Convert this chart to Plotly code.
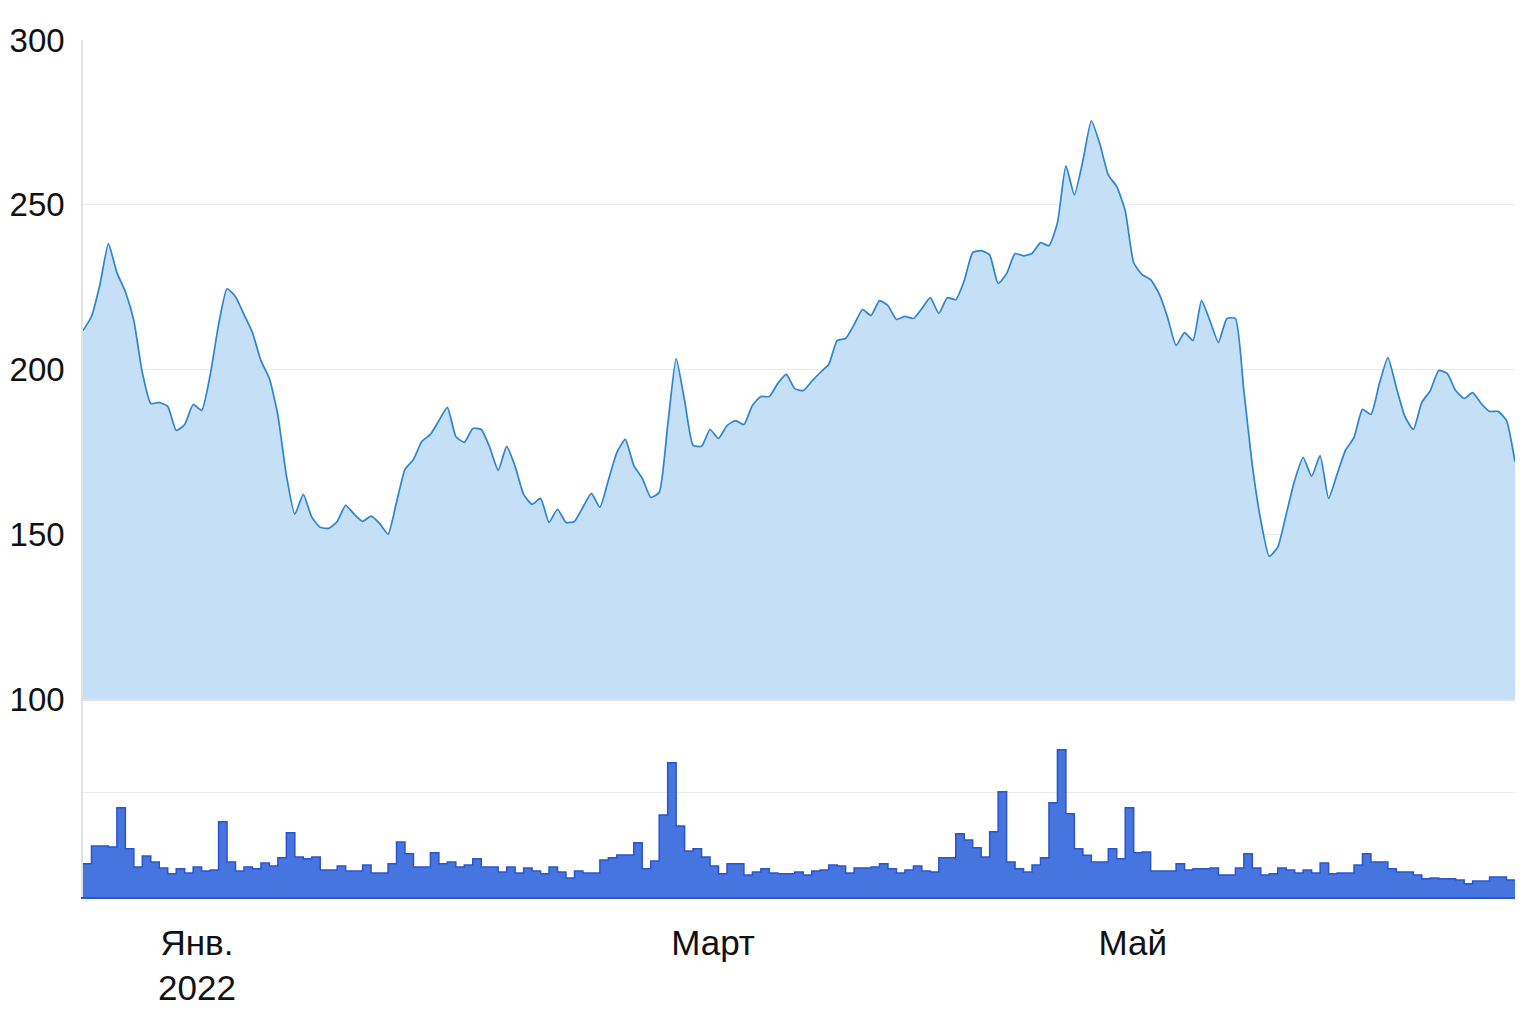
import plotly.graph_objects as go

# Price series (one value per step of the index axis)
price = [
    211.8, 216.1, 225.8, 238.2, 229.4, 223.6, 214.8, 199.1, 189.7, 190.0,
    188.8, 181.5, 183.3, 189.4, 187.6, 198.2, 213.6, 224.5, 222.1, 216.7,
    211.2, 202.7, 197.3, 186.1, 167.9, 156.1, 162.1, 155.2, 152.1, 151.8,
    153.9, 158.8, 156.1, 153.9, 155.5, 153.3, 150.0, 159.7, 169.7, 172.7,
    178.2, 180.3, 184.5, 188.5, 179.7, 177.9, 182.1, 181.8, 176.4, 169.4,
    176.7, 170.6, 162.1, 159.1, 160.9, 153.6, 157.6, 153.6, 153.9, 158.2,
    162.4, 158.2, 166.4, 174.8, 178.8, 170.9, 167.0, 161.2, 162.7, 183.0,
    203.3, 190.6, 177.0, 176.7, 181.8, 179.1, 183.0, 184.5, 183.3, 189.1,
    191.8, 191.8, 195.8, 198.5, 194.2, 193.6, 196.4, 199.1, 201.5, 208.8,
    209.4, 213.6, 218.2, 216.4, 220.9, 219.4, 215.2, 216.1, 215.5, 218.5,
    221.8, 217.0, 221.8, 221.2, 227.0, 235.5, 236.1, 234.8, 226.1, 229.1,
    235.2, 234.5, 235.2, 238.5, 237.6, 244.5, 261.8, 253.0, 263.3, 275.5,
    268.5, 259.1, 255.5, 248.2, 232.4, 228.8, 227.3, 223.0, 215.8, 207.3,
    211.2, 208.8, 220.9, 214.8, 208.2, 215.5, 215.5, 193.6, 170.9, 154.2,
    143.3, 146.1, 156.1, 166.4, 173.3, 167.6, 173.9, 160.9, 168.2, 175.5,
    179.4, 187.9, 186.4, 195.8, 203.6, 194.5, 185.8, 181.8, 190.0, 193.6,
    199.7, 198.8, 193.6, 191.2, 193.0, 189.7, 187.3, 187.3, 184.5, 172.0,
]

# Volume series (same index axis)
volume = [
    15.9, 24.5, 24.5, 24.0, 42.8, 23.1, 14.4, 19.7, 16.8, 13.9,
    11.1, 13.5, 11.5, 14.4, 12.5, 13.0, 36.1, 16.8, 12.5, 14.4,
    13.5, 16.3, 14.9, 18.8, 30.8, 19.2, 18.3, 19.2, 13.0, 13.0,
    14.9, 12.5, 12.5, 15.4, 11.5, 11.5, 15.9, 26.4, 20.7, 14.4,
    14.4, 21.2, 15.9, 16.8, 14.4, 15.4, 18.3, 14.4, 14.4, 12.0,
    14.4, 11.5, 13.9, 12.5, 11.1, 14.4, 12.0, 9.1, 12.5, 11.5,
    11.5, 17.8, 18.8, 20.2, 20.2, 26.0, 13.5, 17.3, 39.4, 64.4,
    34.1, 22.1, 23.1, 19.2, 14.9, 11.1, 15.9, 15.9, 10.6, 12.0,
    13.5, 11.5, 11.1, 11.1, 12.0, 10.6, 12.5, 13.0, 15.4, 14.9,
    11.5, 13.9, 13.9, 14.4, 15.9, 13.5, 11.5, 13.0, 14.9, 12.5,
    12.0, 18.8, 18.8, 30.3, 27.4, 23.6, 19.2, 31.3, 50.5, 16.8,
    13.5, 12.0, 15.4, 18.8, 45.2, 70.7, 39.9, 23.1, 20.0, 16.8,
    16.8, 23.1, 18.3, 42.8, 21.2, 21.6, 12.5, 12.5, 12.5, 15.9,
    13.0, 13.5, 13.5, 13.9, 10.6, 10.6, 13.9, 20.7, 13.9, 10.6,
    11.1, 13.9, 13.0, 11.5, 13.0, 11.5, 16.3, 11.1, 11.5, 11.5,
    15.4, 20.7, 16.8, 16.8, 13.5, 12.0, 12.0, 10.6, 8.7, 9.1,
    8.7, 8.7, 8.2, 6.3, 7.7, 7.7, 9.6, 9.6, 8.2, 8.2,
]

tick_pos = [13.45, 74.35, 123.9]
tick_text = ["Янв.<br>2022", "Март", "Май"]
price_ticks = [100, 150, 200, 250, 300]

idx = list(range(len(price)))
N = len(price)

FONT = "'Liberation Sans', Arial, sans-serif"
GRID = "#ebebeb"
AXLINE = "#e2e2e2"

fig = go.Figure()
fig.add_trace(go.Scatter(
    x=idx, y=price, mode="lines",
    line=dict(color="#2C84D2", width=1.7, shape="spline", smoothing=0.5),
    fill="tozeroy", fillcolor="#C5E0F6",
    xaxis="x", yaxis="y", hoverinfo="skip",
))
fig.add_trace(go.Scatter(
    x=idx, y=volume, mode="lines",
    line=dict(color="#2B55C8", width=1.5, shape="hv"),
    fill="tozeroy", fillcolor="#4675DF",
    xaxis="x2", yaxis="y2", hoverinfo="skip",
))

fig.update_layout(
    width=1536, height=1024,
    margin=dict(l=75, r=29, t=32, b=135),
    paper_bgcolor="white", plot_bgcolor="white",
    showlegend=False,
    font=dict(family=FONT, size=35, color="#111111"),
    xaxis=dict(domain=[0, 1], anchor="y", range=[0, N - 1],
               showticklabels=False, showgrid=False, zeroline=False,
               showline=True, linecolor=AXLINE, linewidth=1.5, ticks=""),
    yaxis=dict(domain=[0.231, 1], anchor="x", range=[100, 300],
               tickvals=price_ticks, showgrid=True, gridcolor=GRID, gridwidth=1,
               tickfont=dict(size=33),
               zeroline=False, showline=True, linecolor=AXLINE, linewidth=1.5,
               ticks="", ticklabelstandoff=10, automargin=False),
    xaxis2=dict(domain=[0, 1], anchor="y2", range=[0, N - 1],
                tickvals=tick_pos, ticktext=tick_text, showgrid=False,
                zeroline=False, showline=True, linecolor="#2B55C8", linewidth=1.5,
                ticks="", ticklabelstandoff=14, automargin=False),
    yaxis2=dict(domain=[0, 0.231], anchor="x2", range=[0, 95], dtick=50,
                showticklabels=False, showgrid=True, gridcolor=GRID,
                zeroline=False, showline=True, linecolor=AXLINE, linewidth=1.5,
                ticks="", automargin=False),
)

fig.write_html("out.html")
